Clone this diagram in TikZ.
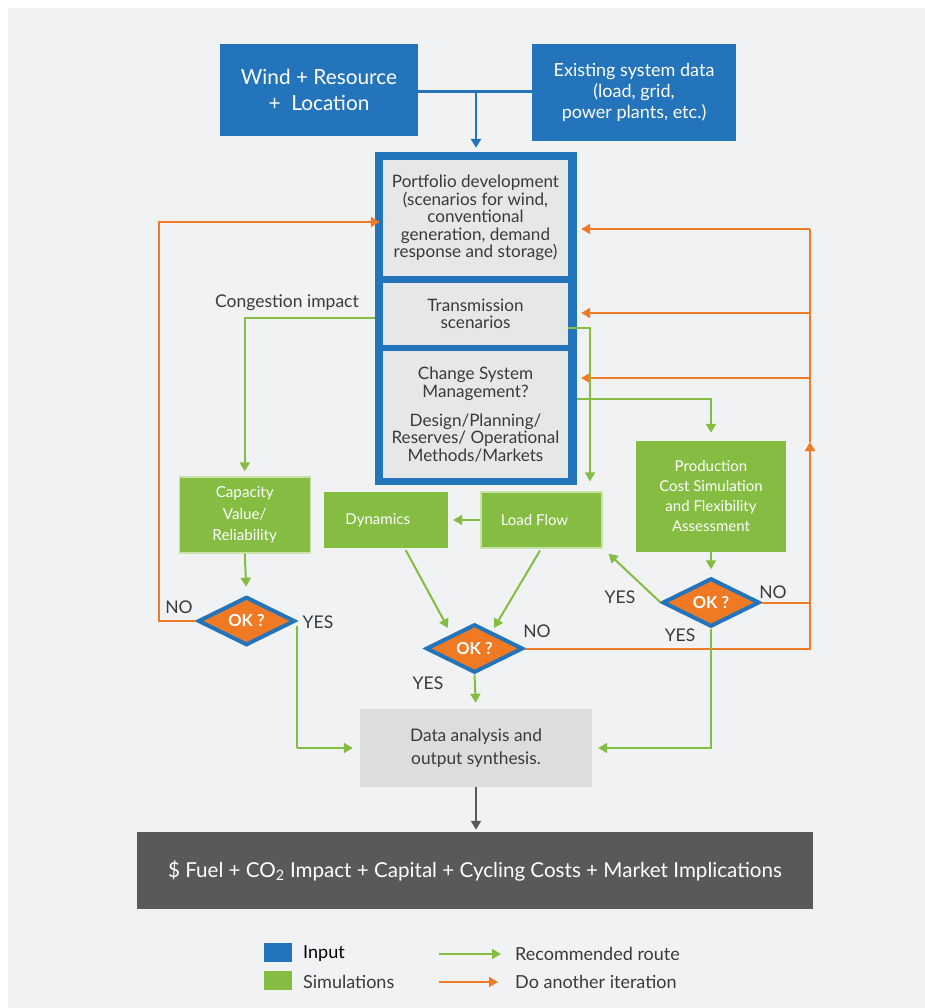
\documentclass[tikz,border=0pt]{standalone}
\usepackage{fontspec}
\setmainfont{Lato}
\usetikzlibrary{arrows.meta,shapes.geometric}
\definecolor{bgc}{HTML}{F1F2F4}
\definecolor{bluec}{HTML}{2474BB}
\definecolor{greenc}{HTML}{84BD41}
\definecolor{orangec}{HTML}{EF7A23}
\definecolor{boxgray}{HTML}{E6E7E8}
\definecolor{datagray}{HTML}{DCDDDF}
\definecolor{darkc}{HTML}{58595B}
\definecolor{txt}{HTML}{3A3A3C}
\definecolor{lightedge}{HTML}{C9E2AA}
\begin{document}
\begin{tikzpicture}[x=1pt,y=-1pt,
  inbox/.style={rectangle,fill=bluec,text=white,inner sep=0pt,align=center},
  graybox/.style={rectangle,fill=boxgray,text=txt,inner sep=0pt,align=center,font=\fontsize{17.1}{17.4}\selectfont},
  simbox/.style={rectangle,fill=greenc,text=white,inner sep=0pt,align=center,font=\fontsize{15}{20}\selectfont},
  okdia/.style={diamond,fill=orangec,draw=bluec,line width=4pt,inner sep=0pt,text=white,
     minimum width=97pt,minimum height=45.5pt,font=\bfseries\fontsize{16.5}{16.5}\selectfont},
  lbl/.style={text=txt,inner sep=0pt,font=\fontsize{17.5}{17.5}\selectfont},
  arrowtip/.style={-{Triangle[length=9pt,width=10pt]}},
  garr/.style={draw=greenc,line width=2pt,arrowtip},
  gline/.style={draw=greenc,line width=2pt},
  oarr/.style={draw=orangec,line width=2pt,arrowtip},
  oline/.style={draw=orangec,line width=2pt},
  bline/.style={draw=bluec,line width=2.5pt}]
\useasboundingbox (0,0) rectangle (925,1008);
\fill[white] (0,0) rectangle (925,1008);
\fill[bgc] (8,8) rectangle (925,1008);

% input boxes
\node[inbox,minimum width=198pt,minimum height=92pt,font=\fontsize{20.8}{26}\selectfont] (wind) at (319,90) {Wind + Resource\\+\ \ Location};
\node[inbox,minimum width=204pt,minimum height=97pt,font=\fontsize{18}{21}\selectfont] (exist) at (634,92.5) {Existing system data\\(load, grid,\\power plants, etc.)};

% central column
\node[rectangle,fill=bluec,minimum width=202pt,minimum height=333pt,inner sep=0pt] (outer) at (476,318.5) {};
\node[graybox,minimum width=185pt,minimum height=116pt] (port) at (475.5,218) {Portfolio development\\(scenarios for wind,\\conventional\\generation, demand\\response and storage)};
\node[graybox,minimum width=185pt,minimum height=62pt] (trans) at (475.5,314) {Transmission\\scenarios};
\node[graybox,minimum width=185pt,minimum height=127pt] (change) at (475.5,414.5) {Change System\\Management?\\[12pt]Design/Planning/\\Reserves/ Operational\\Methods/Markets};

% simulations
\node[simbox,draw=lightedge,line width=1.2pt,minimum width=131pt,minimum height=76pt,font=\fontsize{15.2}{21.5}\selectfont] (cap) at (244.75,515) {Capacity\\Value/\\Reliability};
\node[simbox,minimum width=124.5pt,minimum height=56pt] (dyn) at (385.75,520) {Dynamics\hspace*{16pt}};
\node[simbox,draw=lightedge,line width=1.2pt,minimum width=121pt,minimum height=56pt] (lf) at (541.5,520) {Load Flow\hspace*{14pt}};
\node[simbox,minimum width=150pt,minimum height=111pt] (prod) at (711,496.5) {Production\\Cost Simulation\\and Flexibility\\Assessment};

% decisions
\node[okdia] (okL) at (246.5,621) {OK ?};
\node[okdia] (okC) at (474.5,648.5) {OK ?};
\node[okdia] (okR) at (711,602.5) {OK ?};

% outputs
\node[rectangle,fill=datagray,text=txt,align=center,minimum width=232pt,minimum height=78pt,inner sep=0pt,font=\fontsize{17.3}{23}\selectfont] (data) at (476,748) {Data analysis and\\output synthesis.};
\node[rectangle,fill=darkc,text=white,minimum width=676pt,minimum height=77pt,inner sep=0pt,font=\fontsize{20.6}{24}\selectfont] (dark) at (475,870.5) {\$ Fuel + CO\textsubscript{2} Impact + Capital + Cycling Costs + Market Implications};

% labels
\node[lbl] (congl) at (287,303) {Congestion impact};
\node[lbl] (noL) at (179,607) {NO};
\node[lbl] (yesL) at (318,622) {YES};
\node[lbl] (noC) at (537,631) {NO};
\node[lbl] (yesC) at (428,683) {YES};
\node[lbl] (yesR1) at (620,597) {YES};
\node[lbl] (yesR2) at (680,635) {YES};
\node[lbl] (noR) at (773,592) {NO};

% coordinates
\coordinate (jn) at (476,91.5);
\coordinate (lcorner) at (159,222);
\coordinate (rtop) at (810,229);
\coordinate (rtr) at (810,313);
\coordinate (rch) at (810,378);
\coordinate (rmid) at (810,442);
\coordinate (rbot) at (810,648.5);
\coordinate (cong) at (247,318);
\coordinate (trg) at (590,328);
\coordinate (chg) at (712,399);
\coordinate (yesLs) at (297,626);
\coordinate (yesLc) at (297,748);

% blue input connectors
\draw[bline] (wind.east |- jn) -- (exist.west |- jn);
\draw[bline,arrowtip,shorten >=4pt] (jn) -- (outer.north);

% orange iteration loops
\draw[oarr,shorten >=3pt] (okL.west) -| (lcorner) -- (lcorner -| port.west);
\draw[oline] (okR.east) -- (okR.east -| rtop);
\draw[oarr] (okC.east) -| (rmid);
\draw[oline] (rmid) -- (rtop);
\draw[oarr,shorten >=4pt] (rtop) -- (rtop -| outer.east);
\draw[oarr,shorten >=4pt] (rtr) -- (rtr -| outer.east);
\draw[oarr,shorten >=4pt] (rch) -- (rch -| outer.east);

% green recommended route
\draw[garr,shorten >=5pt] (cong -| outer.west) -| (cap.north);
\draw[garr,shorten >=10pt] (trg -| trans.east) -| (trg |- lf.north);
\draw[garr,shorten >=8pt] (chg -| outer.east) -| (prod.north);
\draw[garr,shorten >=8pt] (cap.south) -- (okL.north);
\draw[gline] (yesLs) -- (yesLc);
\draw[garr,shorten >=7pt] (yesLc) -- (data.west);
\draw[garr,shorten >=5pt] (lf.west) -- (dyn.east);
\draw[garr] ([xshift=20pt,yshift=-2pt]dyn.south) -- ([xshift=-26.5pt,yshift=20.5pt]okC.center);
\draw[garr] ([xshift=-1.5pt,yshift=-2pt]lf.south) -- ([xshift=19.5pt,yshift=20.5pt]okC.center);
\draw[garr,shorten >=6pt] (okC.south) -- (data.north);
\draw[garr,shorten >=7pt] (prod.south) -- (okR.north);
\draw[garr] (okR.west) -- ([xshift=6pt,yshift=-5pt]lf.south east);
\draw[garr,shorten >=6pt] (okR.south) |- (data.east);

% to final
\draw[draw=darkc,line width=2pt,arrowtip,shorten >=2pt] (data.south) -- (data.south |- dark.north);

% legend
\node[rectangle,fill=bluec,minimum width=28pt,minimum height=19pt,inner sep=0pt] (lgin) at (278,952.5) {};
\node[rectangle,fill=greenc,minimum width=28pt,minimum height=19pt,inner sep=0pt] (lgsim) at (278,980.5) {};
\node[lbl,anchor=west,text=black,font=\fontsize{18}{18}\selectfont] (lgintxt) at (303,954) {Input};
\node[lbl,anchor=west,font=\fontsize{18}{18}\selectfont] (lgsimtxt) at (303,982) {Simulations};
\node[lbl,anchor=west,font=\fontsize{18}{18}\selectfont] (lgrec) at (515,954) {Recommended route};
\node[lbl,anchor=west,font=\fontsize{18}{18}\selectfont] (lgit) at (515,982) {Do another iteration};
\coordinate (la1) at (439,954);
\coordinate (la2) at (439,982);
\draw[garr] (la1) -- ([xshift=-14pt]lgrec.west);
\draw[oarr] (la2) -- ([xshift=-17pt]lgit.west);
\end{tikzpicture}
\end{document}
